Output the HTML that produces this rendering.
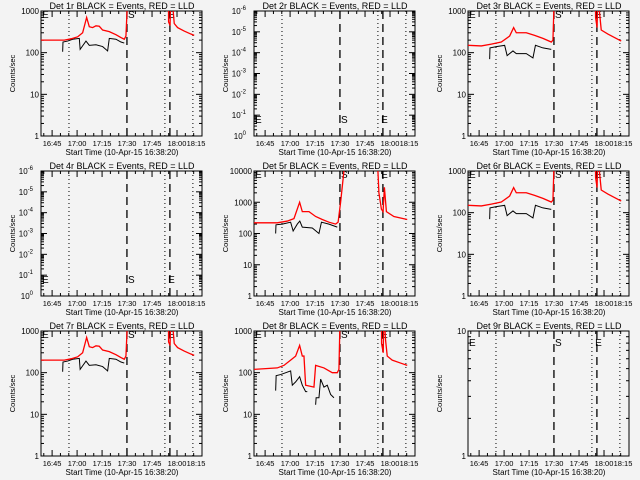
<!DOCTYPE html>
<html><head><meta charset="utf-8"><style>
html,body{margin:0;padding:0;background:#f3f3f3;}
svg{display:block;font-family:"Liberation Sans",sans-serif;}
</style></head><body>
<svg id="c" width="640" height="480" viewBox="0 0 640 480"></svg>
<script>
// minutes since 16:38:20
const xTickLabels = ["16:45","17:00","17:15","17:30","17:45","18:00","18:15"];
const xTickMinutes = [6.67,21.67,36.67,51.67,66.67,81.67,96.67];
const dottedLineMinutes = [16.8,74.4,91.2];
const dashedLineMinutes = [51.6,77.4];
const panelTitles = ["Det 1r","Det 2r","Det 3r","Det 4r","Det 5r","Det 6r","Det 7r","Det 8r","Det 9r"];
const panelDecades = [[0,3],[-6,0],[0,3],[-6,0],[0,4],[0,3],[0,3],[0,3],[0,1]];
const red1 = [[0,200],[14,200],[18,215],[22,240],[25,300],[27.4,700],[29,420],[31,400],[33,440],[35,430],[37,350],[41,320],[45,270],[48,230],[50,210],[51,250],[51.5,700],[52,3000],[76.5,3000],[76.6,550],[77.5,450],[78,3000],[79,1500],[80,500],[82,400],[86,330],[90,280],[92,260]];
const black1 = [[13,105],[13.2,180],[16,190],[19,210],[23,220],[23.5,120],[27,190],[29,150],[33,155],[37,140],[40,110],[41,220],[45,210],[48,180],[50,170]];
const red3 = [[0,150],[8,145],[14,160],[20,180],[25,250],[27.4,400],[29,300],[35,300],[40,260],[45,220],[50,180],[51,200],[51.5,900],[52,3000],[76.5,3000],[76.6,700],[77.5,400],[78,3000],[79,900],[80,350],[84,280],[88,230],[92,190]];
const black3 = [[13,70],[13.2,130],[17,140],[22,150],[23.5,85],[27,110],[29,95],[35,95],[39,75],[40.5,150],[45,130],[50,120]];
const red5 = [[0,220],[14,220],[20,250],[24,300],[27.4,1000],[29,500],[33,500],[37,350],[41,280],[45,230],[49,200],[50.5,230],[52,1000],[54,10000],[55,30000],[74,30000],[75,2000],[76.5,600],[77.5,500],[78.3,3000],[79.5,500],[84,350],[92,280]];
const black5 = [[13,100],[13.2,190],[17,200],[22,230],[23.5,120],[26,200],[27.5,250],[29,160],[35,150],[39,100],[40.5,230],[45,200],[50,160]];
const red8 = [[0,120],[14,130],[18,150],[22,200],[25,250],[27.4,450],[29,250],[30,250],[31,50],[36,45],[37,150],[42,130],[47,100],[50,100],[51,120],[51.6,1500],[52,3000],[76.5,3000],[76.6,500],[77.6,300],[78,3000],[79,600],[80,250],[83,200],[88,170],[92,150]];
const black8 = [[13,37],[13.3,85],[16,90],[22,110],[23,50],[25,60],[27.4,80],[29,50],[31,35],[32,35]];
const black8b = [[37,17],[37.3,25],[39,25],[40,70],[42,45],[44,50],[46,30],[48,25]];
const panelRed = [red1,null,red3,null,red5,red3,red1,red8,null];
const panelBlack = [[black1],null,[black3],null,[black5],[black3],[black1],[black8,black8b],null];

const NS="http://www.w3.org/2000/svg";
const svg=document.getElementById('c');
function mk(tag,attrs,parent){const e=document.createElementNS(NS,tag);for(const k in attrs)e.setAttribute(k,attrs[k]);(parent||svg).appendChild(e);return e;}

for(let p=0;p<9;p++){
  const ox=Math.round((p%3)*213.33), oy=Math.floor(p/3)*160;
  const L=ox+41,R=ox+202,T=oy+11,B=oy+136;
  const [d0,d1]=panelDecades[p];
  const xS=m=>L+(m/96.67)*(R-L);
  const yS=v=>B-(Math.log10(v)-d0)/(d1-d0)*(B-T);
  const g=mk('g',{});
  
  
  const cp=mk('clipPath',{id:'cp'+p},g);mk('rect',{x:L,y:T,width:R-L,height:B-T},cp);
  const t=mk('text',{x:ox+122,y:oy+9,'font-size':'9','text-anchor':'middle',fill:'#000'},g);
  t.textContent=panelTitles[p]+" BLACK = Events, RED = LLD";
  
  
  mk('rect',{x:L,y:T,width:R-L,height:B-T,fill:'none',stroke:'#000','stroke-width':1},g);
  for(let d=d0;d<=d1;d++){
    const y=yS(Math.pow(10,d));
    mk('line',{x1:L,x2:L+6,y1:y,y2:y,stroke:'#000'},g);mk('line',{x1:R,x2:R-6,y1:y,y2:y,stroke:'#000'},g);
    const lb=mk('text',{x:L-2,y:y+3,'font-size':'8','text-anchor':'end'},g);
    
    
    if(d0<0){lb.textContent='10';const e=-(d-d0);const s=mk('tspan',{dy:-4,'font-size':'6'},lb);s.textContent=e===0?'0':String(e);lb.setAttribute('x',L-8);}
    else lb.textContent=String(Math.pow(10,d));
    if(d<d1)for(let k=2;k<10;k++){const yy=yS(k*Math.pow(10,d));
      mk('line',{x1:L,x2:L+3,y1:yy,y2:yy,stroke:'#000'},g);mk('line',{x1:R,x2:R-3,y1:yy,y2:yy,stroke:'#000'},g);}
  }
  for(let m=1.67;m<=96.67;m+=5){const x=xS(m);const maj=Math.abs(((m-6.67)%15+15)%15)<0.1;const len=maj?6:3;
    mk('line',{x1:x,x2:x,y1:B,y2:B-len,stroke:'#000'},g);mk('line',{x1:x,x2:x,y1:T,y2:T+len,stroke:'#000'},g);}
  xTickLabels.forEach((s,i)=>{const x=Math.min(xS(xTickMinutes[i]),R-6);const lb=mk('text',{x:x,y:B+10,'font-size':'7.5','text-anchor':'middle'},g);lb.textContent=s;
    
    });
  const xt=mk('text',{x:ox+122,y:B+19,'font-size':'8','text-anchor':'middle'},g);xt.textContent="Start Time (10-Apr-15 16:38:20)";
  
  
  const yt=mk('text',{x:0,y:0,'font-size':'7.5','text-anchor':'middle',transform:`translate(${ox+15},${(T+B)/2}) rotate(-90)`},g);yt.textContent="Counts/sec";
  
  
  dottedLineMinutes.forEach(m=>{const l=mk('line',{x1:xS(m),x2:xS(m),y1:T,y2:B,stroke:'#000','stroke-dasharray':'1,3'},g);
    
    });
  dashedLineMinutes.forEach(m=>{const l=mk('line',{x1:xS(m),x2:xS(m),y1:T,y2:B,stroke:'#000','stroke-dasharray':'8,5','stroke-width':1.3},g);
    
    });
  const my=(p===1||p===3)?B-13:((p===8)?T+15:T+7);
  [['E',L+1],['S',xS(51.6)+1],['E',xS(76.3)]].forEach(([s,x])=>{const lb=mk('text',{x:x,y:my,'font-size':'10'},g);lb.textContent=s;
    
    });
  const dg=mk('g',{'clip-path':`url(#cp${p})`},g);
  if(panelBlack[p])panelBlack[p].forEach(seg=>{const pl=mk('polyline',{points:seg.map(([m,v])=>xS(m)+','+yS(v)).join(' '),fill:'none',stroke:'#000','stroke-width':1},dg);
    
    });
  if(panelRed[p]){const pl=mk('polyline',{points:panelRed[p].map(([m,v])=>xS(m)+','+yS(v)).join(' '),fill:'none',stroke:'#ff0000','stroke-width':1.3},dg);
    
    }
}
</script>
</body></html>
